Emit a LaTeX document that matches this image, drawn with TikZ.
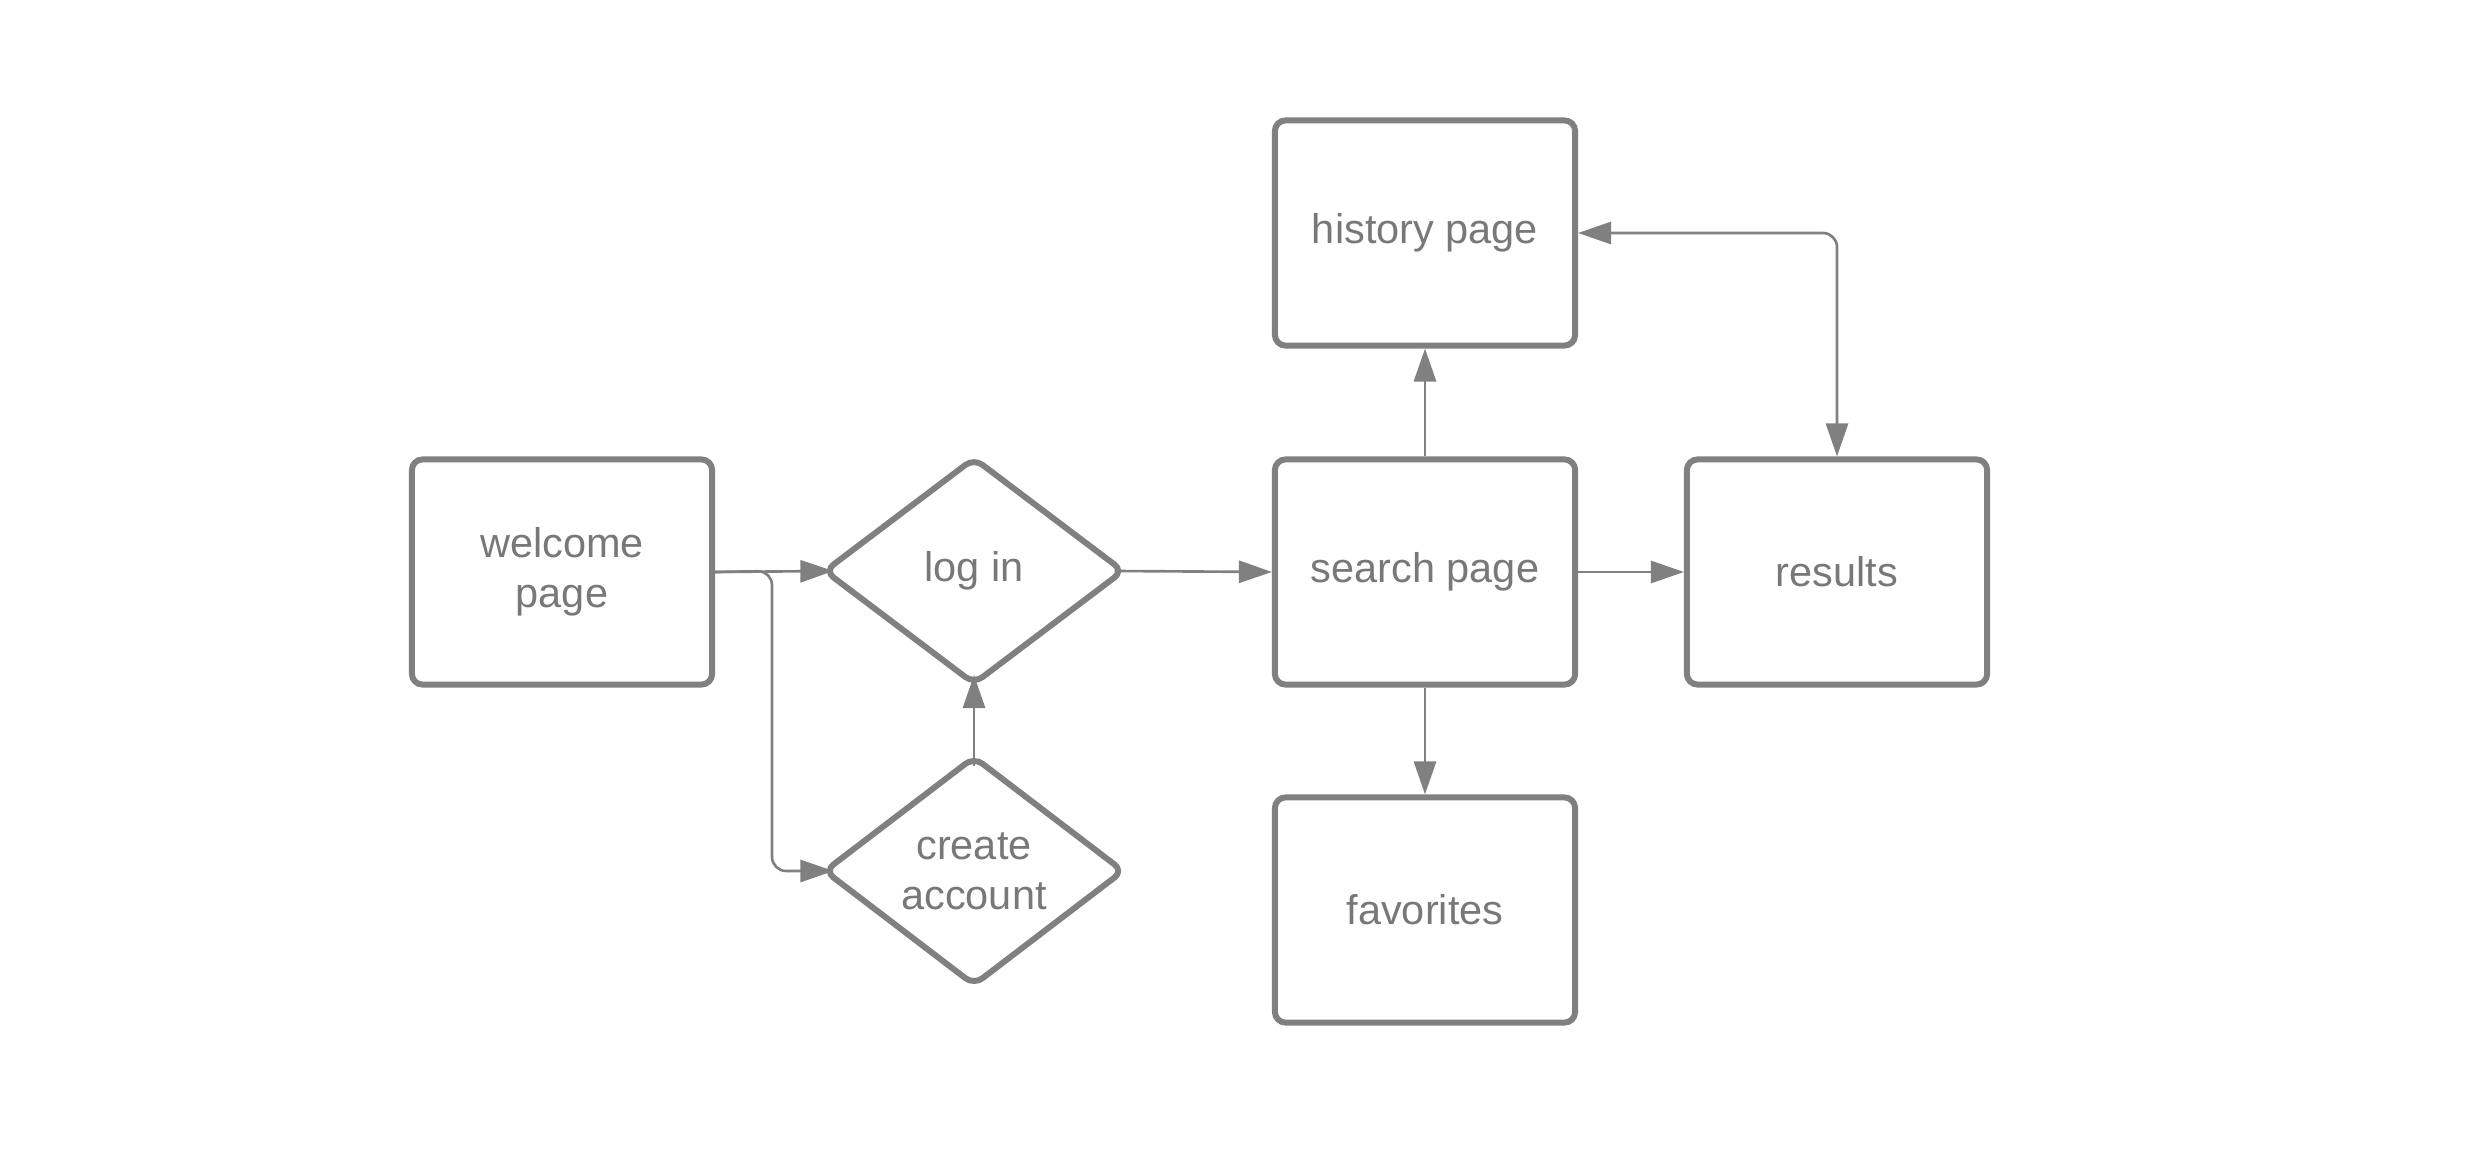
\documentclass[tikz,border=0pt]{standalone}
\usepackage{fontspec}
\setmainfont{Liberation Sans}
\usepackage{xcolor}
\usetikzlibrary{arrows.meta,shapes.geometric}

\begin{document}
\begin{tikzpicture}[x = 0.01cm,
                    y = -0.01cm,
                    font = {\fontsize{11.8}{14.2}\selectfont}]


  % COLORS
  \definecolor{linecolor_fc}{RGB}{128,128,128}
  \definecolor{textcolor_fc}{RGB}{120,120,120}


  % STYLES
  \tikzstyle{pagestyle_fc} = [draw=linecolor_fc, line width=1.7pt, rounded corners=3pt, minimum width=3.0cm, minimum height=2.25cm, inner sep=0pt, text=textcolor_fc, align=center]
  \tikzstyle{choicestyle_fc} = [diamond, draw=linecolor_fc, line width=1.7pt, rounded corners=3pt, minimum width=2.93cm, minimum height=2.2cm, inner sep=0pt, outer sep=-1.7pt, text=textcolor_fc, align=center]
  \tikzstyle{linkstyle_fc} = [draw=linecolor_fc, line width=0.75pt, rounded corners=4pt, -{Triangle[length=9.4pt, width=6.3pt]}]


  \useasboundingbox (0, 0) rectangle (2475, 1155);


  % DEF NODES
  \node[pagestyle_fc] (welcome_fc) at (562, 572) {welcome\\page};
  \node[choicestyle_fc] (login_fc) at (974, 571) {log in};
  \node[choicestyle_fc] (create_fc) at (974, 871) {create\\account};
  \node[pagestyle_fc] (search_fc) at (1425, 572) {search page};
  \node[pagestyle_fc] (history_fc) at (1425, 233) {history page};
  \node[pagestyle_fc] (results_fc) at (1837, 572) {results};
  \node[pagestyle_fc] (favorites_fc) at (1425, 910) {favorites};


  % BEND POINTS
  \coordinate (split_fc) at (772, 571);


  % LINKS
  \draw[linkstyle_fc] (welcome_fc.east) -- (login_fc.west);
  \draw[linkstyle_fc] (welcome_fc.east) -- (split_fc) |- (create_fc.west);
  \draw[linkstyle_fc] (create_fc.north) -- (login_fc.south);
  \draw[linkstyle_fc] (login_fc.east) -- (search_fc.west);
  \draw[linkstyle_fc] (search_fc.north) -- (history_fc.south);
  \draw[linkstyle_fc] (search_fc.south) -- (favorites_fc.north);
  \draw[linkstyle_fc] (search_fc.east) -- (results_fc.west);
  \draw[linkstyle_fc, {Triangle[length=9.4pt, width=6.3pt]}-{Triangle[length=9.4pt, width=6.3pt]}] (results_fc.north) |- (history_fc.east);

\end{tikzpicture}
\end{document}
